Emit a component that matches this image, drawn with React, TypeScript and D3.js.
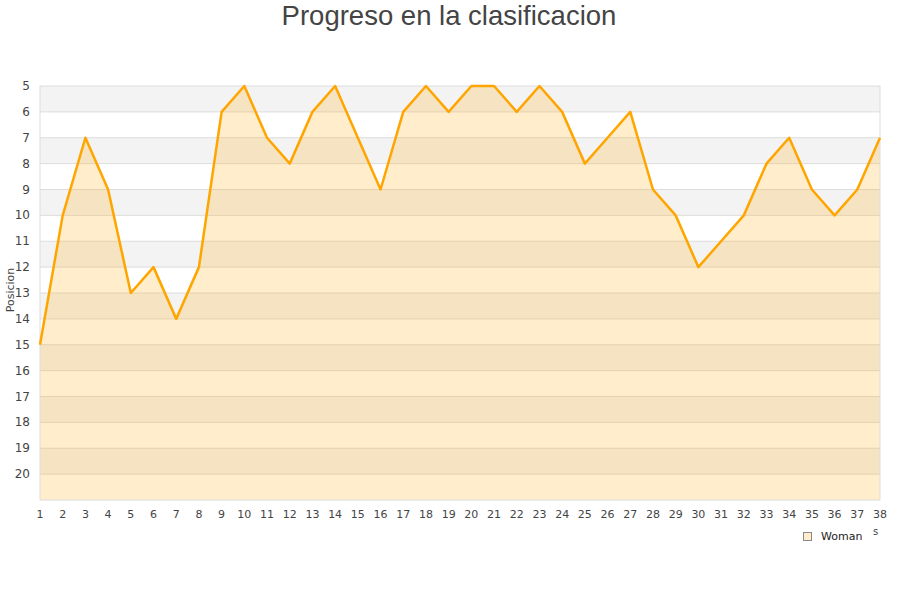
import React from "react";
import * as d3 from "d3";

const rounds: number[] = d3.range(1, 39);
const positions: number[] = [
  15, 10, 7, 9, 13, 12, 14, 12, 6, 5,
  7, 8, 6, 5, 7, 9, 6, 5, 6, 5,
  5, 6, 5, 6, 8, 7, 6, 9, 10, 12,
  11, 10, 8, 7, 9, 10, 9, 7,
];
const yTicks: number[] = d3.range(5, 21);
const title = "Progreso en la clasificacion";
const yLabel = "Posicion";
const seriesName = "Woman";

const W = 900;
const H = 600;
const left = 40;
const right = 880;
const top = 86;
const bottom = 500;

export default function App() {
  const x = d3.scaleLinear().domain([1, 38]).range([left, right]);
  const y = d3.scaleLinear().domain([5, 21]).range([top, bottom]);
  const data = rounds.map((r, i) => ({ r, p: positions[i] }));
  const line = d3
    .line<{ r: number; p: number }>()
    .x((d) => x(d.r))
    .y((d) => y(d.p));
  const area = d3
    .area<{ r: number; p: number }>()
    .x((d) => x(d.r))
    .y0(y(21))
    .y1((d) => y(d.p));
  const bands = d3.range(5, 21);
  const font = "DejaVu Sans, sans-serif";
  return (
    <svg
      width={W}
      height={H}
      style={{ position: "absolute", left: 0, top: 0, background: "#fff" }}
      fontFamily={font}
    >
      <text x={449} y={25} textAnchor="middle" fontSize={27.5} fill="#444" fontFamily="Liberation Sans, Arial, sans-serif">
        {title}
      </text>
      {bands.map((b) => (
        <rect
          key={b}
          x={left}
          y={y(b)}
          width={right - left}
          height={y(b + 1) - y(b)}
          fill={(b - 5) % 2 === 0 ? "#f3f3f3" : "#ffffff"}
        />
      ))}
      {d3.range(6, 21).map((t) => (
        <line key={t} x1={left} x2={right} y1={y(t)} y2={y(t)} stroke="#dddddd" strokeWidth={1} />
      ))}
      <path d={area(data) || ""} fill="#ffa500" fillOpacity={0.2} />
      <rect x={left} y={top} width={right - left} height={bottom - top} fill="none" stroke="#dddddd" strokeWidth={1} />
      <path d={line(data) || ""} fill="none" stroke="#ffa500" strokeWidth={2.5} strokeLinejoin="round" />
      {yTicks.map((t) => (
        <text key={t} x={30} y={y(t) + 4} textAnchor="end" fontSize={12} fill="#444">
          {t}
        </text>
      ))}
      {rounds.map((r) => (
        <text key={r} x={x(r)} y={518} textAnchor="middle" fontSize={11} fill="#444">
          {r}
        </text>
      ))}
      <text transform={`translate(14,290) rotate(-90)`} textAnchor="middle" fontSize={11} fill="#444">
        {yLabel}
      </text>
      <rect x={803.5} y={532.5} width={8} height={8} fill="#ffedcc" stroke="#888" strokeWidth={1} />
      <text x={821} y={540} fontSize={11} fill="#222">
        {seriesName}
      </text>
      <text x={873} y={535} fontSize={10} fill="#444">
        s
      </text>
    </svg>
  );
}
